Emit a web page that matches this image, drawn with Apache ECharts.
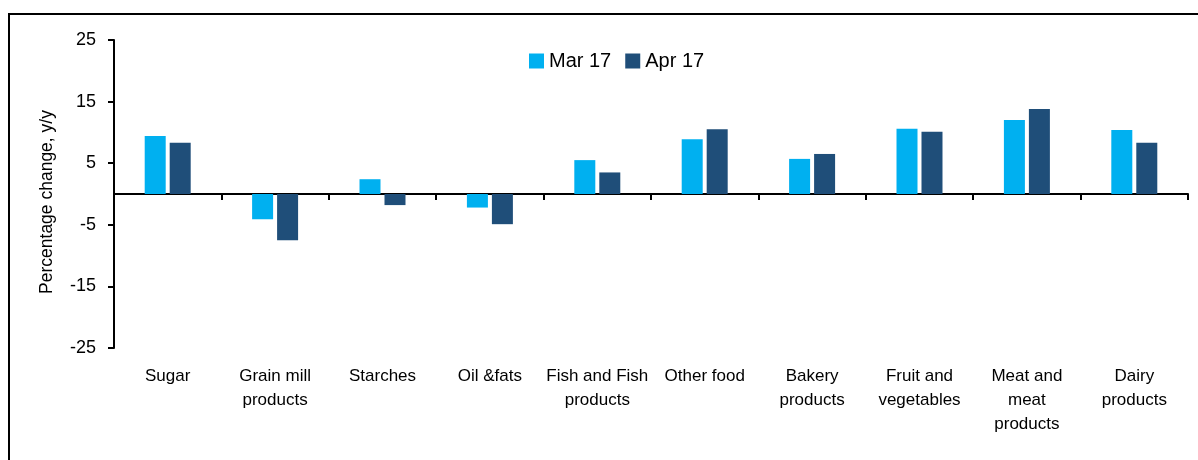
<!DOCTYPE html>
<html>
<head>
    <meta charset="utf-8">
    <title>food y/y</title>
    <script src="https://cdn.jsdelivr.net/npm/echarts@6/dist/echarts.min.js"></script>
    <style>
        html, body { margin: 0; padding: 0; background: #fff; }
    </style>
</head>
<body>
    <div id="main" style="width: 1198px; height: 460px;"></div>
    <script type="text/javascript">
    // categories and values
    var categories = ['Sugar', 'Grain mill\nproducts', 'Starches', 'Oil &fats', 'Fish and Fish\nproducts',
        'Other food', 'Bakery\nproducts', 'Fruit and\nvegetables', 'Meat and\nmeat\nproducts', 'Dairy\nproducts'];
    var mar17 = [9.4, -4.1, 2.4, -2.2, 5.5, 8.9, 5.7, 10.6, 12.0, 10.4];
    var apr17 = [8.3, -7.5, -1.8, -4.9, 3.5, 10.5, 6.5, 10.1, 13.8, 8.3];
    var yTicks = [-25, -15, -5, 5, 15, 25];

    var font = 'Liberation Sans, Arial, sans-serif';
    var myChart = echarts.init(document.getElementById('main'));
    var option = {
        animation: false,
        graphic: [{
            type: 'rect',
            shape: { x: 9, y: 14, width: 1200, height: 460 },
            style: { fill: 'none', stroke: '#000', lineWidth: 2 },
            silent: true
        }],
        legend: {
            left: 524,
            top: 46,
            icon: 'rect',
            itemWidth: 15,
            itemHeight: 15,
            itemGap: 14,
            textStyle: { fontFamily: font, fontSize: 20, color: '#000' },
            data: ['Mar 17', 'Apr 17']
        },
        grid: {
            left: 114,
            right: 10,
            top: 40,
            bottom: 112
        },
        xAxis: [{
            type: 'category',
            data: categories,
            position: 'bottom',
            axisLine: { show: false, onZero: false },
            axisTick: { show: false },
            axisLabel: {
                interval: 0,
                margin: 16,
                fontFamily: font,
                fontSize: 17,
                lineHeight: 24,
                color: '#000'
            }
        }, {
            type: 'category',
            data: categories,
            position: 'top',
            axisLine: { show: true, onZero: true, lineStyle: { color: '#000', width: 2 } },
            axisTick: { show: true, inside: true, length: 6, alignWithLabel: false, lineStyle: { color: '#000', width: 2 } },
            axisLabel: { show: false }
        }],
        yAxis: {
            type: 'value',
            min: yTicks[0],
            max: yTicks[yTicks.length - 1],
            interval: 10,
            name: 'Percentage change, y/y',
            nameLocation: 'middle',
            nameGap: 58,
            nameTextStyle: { fontFamily: font, fontSize: 17.5, color: '#000', padding: [0, 16, 0, 0] },
            axisLine: { show: true, lineStyle: { color: '#000', width: 2 } },
            axisTick: { show: true, length: 6, lineStyle: { color: '#000', width: 2 } },
            axisLabel: { fontFamily: font, fontSize: 18, color: '#000', margin: 18 },
            splitLine: { show: false }
        },
        series: [{
            name: 'Mar 17',
            type: 'bar',
            xAxisIndex: 0,
            data: mar17,
            barWidth: 21,
            barGap: '19%',
            itemStyle: { color: '#00B0F0' }
        }, {
            name: 'Apr 17',
            type: 'bar',
            xAxisIndex: 0,
            data: apr17,
            barWidth: 21,
            itemStyle: { color: '#1F4E79' }
        }]
    };
    myChart.setOption(option);
    </script>
</body>
</html>
